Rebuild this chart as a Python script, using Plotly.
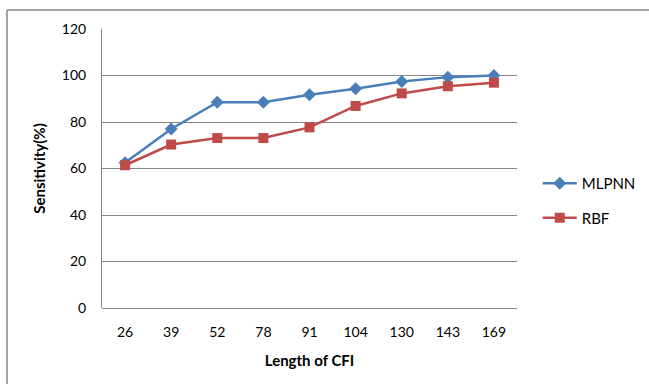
import plotly.graph_objects as go

categories = ["26", "39", "52", "78", "91", "104", "130", "143", "169"]
mlpnn = [62.5, 77, 88.5, 88.5, 91.7, 94.3, 97.4, 99.3, 100]
rbf = [61.4, 70.3, 73.1, 73.1, 77.7, 86.9, 92.3, 95.4, 96.9]
y_ticks = [0, 20, 40, 60, 80, 100, 120]

FONT = "Lato, 'Liberation Sans', sans-serif"
GRID = "#868686"

fig = go.Figure()
fig.add_trace(go.Scatter(
    x=categories, y=mlpnn, name="MLPNN", mode="lines+markers",
    line=dict(color="#4A7EBB", width=2.5),
    marker=dict(symbol="diamond", size=10, color="#4A7EBB"),
    legendgroup="a"))
fig.add_trace(go.Scatter(
    x=categories, y=rbf, name="RBF", mode="lines+markers",
    line=dict(color="#BE4B48", width=2.5),
    marker=dict(symbol="square", size=10, color="#BE4B48"),
    legendgroup="b"))

fig.update_layout(
    width=649, height=384,
    margin=dict(l=102, r=132, t=29, b=76, autoexpand=False),
    paper_bgcolor="white", plot_bgcolor="white",
    font=dict(family=FONT, size=14, color="#000000"),
    showlegend=True,
    legend=dict(x=1.05, y=0.385, xanchor="left", yanchor="middle",
                traceorder="grouped", tracegroupgap=12,
                font=dict(size=15), itemwidth=34, bgcolor="rgba(0,0,0,0)"),
    xaxis=dict(type="category", range=[-0.5, 8.5], showgrid=False,
               showline=False, ticks="", zeroline=False, automargin=False,
               ticklabelstandoff=14, tickfont=dict(size=14),
               title=dict(text="<b>Length of CFI</b>", font=dict(size=15), standoff=16)),
    yaxis=dict(range=[0, 120], tickvals=y_ticks, showgrid=True, gridcolor=GRID,
               gridwidth=1, showline=True, linecolor=GRID, linewidth=1,
               ticks="", zeroline=True, zerolinecolor=GRID, zerolinewidth=1,
               automargin=False,
               ticklabelstandoff=12, tickfont=dict(size=14),
               title=dict(text="<b>Sensitivity(%)</b>", font=dict(size=15), standoff=12)),
    shapes=[
        dict(type="line", xref="paper", yref="paper", x0=-0.229, x1=-0.229,
             y0=-0.4, y1=1.068, line=dict(color=GRID, width=1.5)),
        dict(type="line", xref="paper", yref="paper", x0=-0.229, x1=1.5,
             y0=1.068, y1=1.068, line=dict(color=GRID, width=1.5)),
    ],
)

fig.write_html("out.html")
